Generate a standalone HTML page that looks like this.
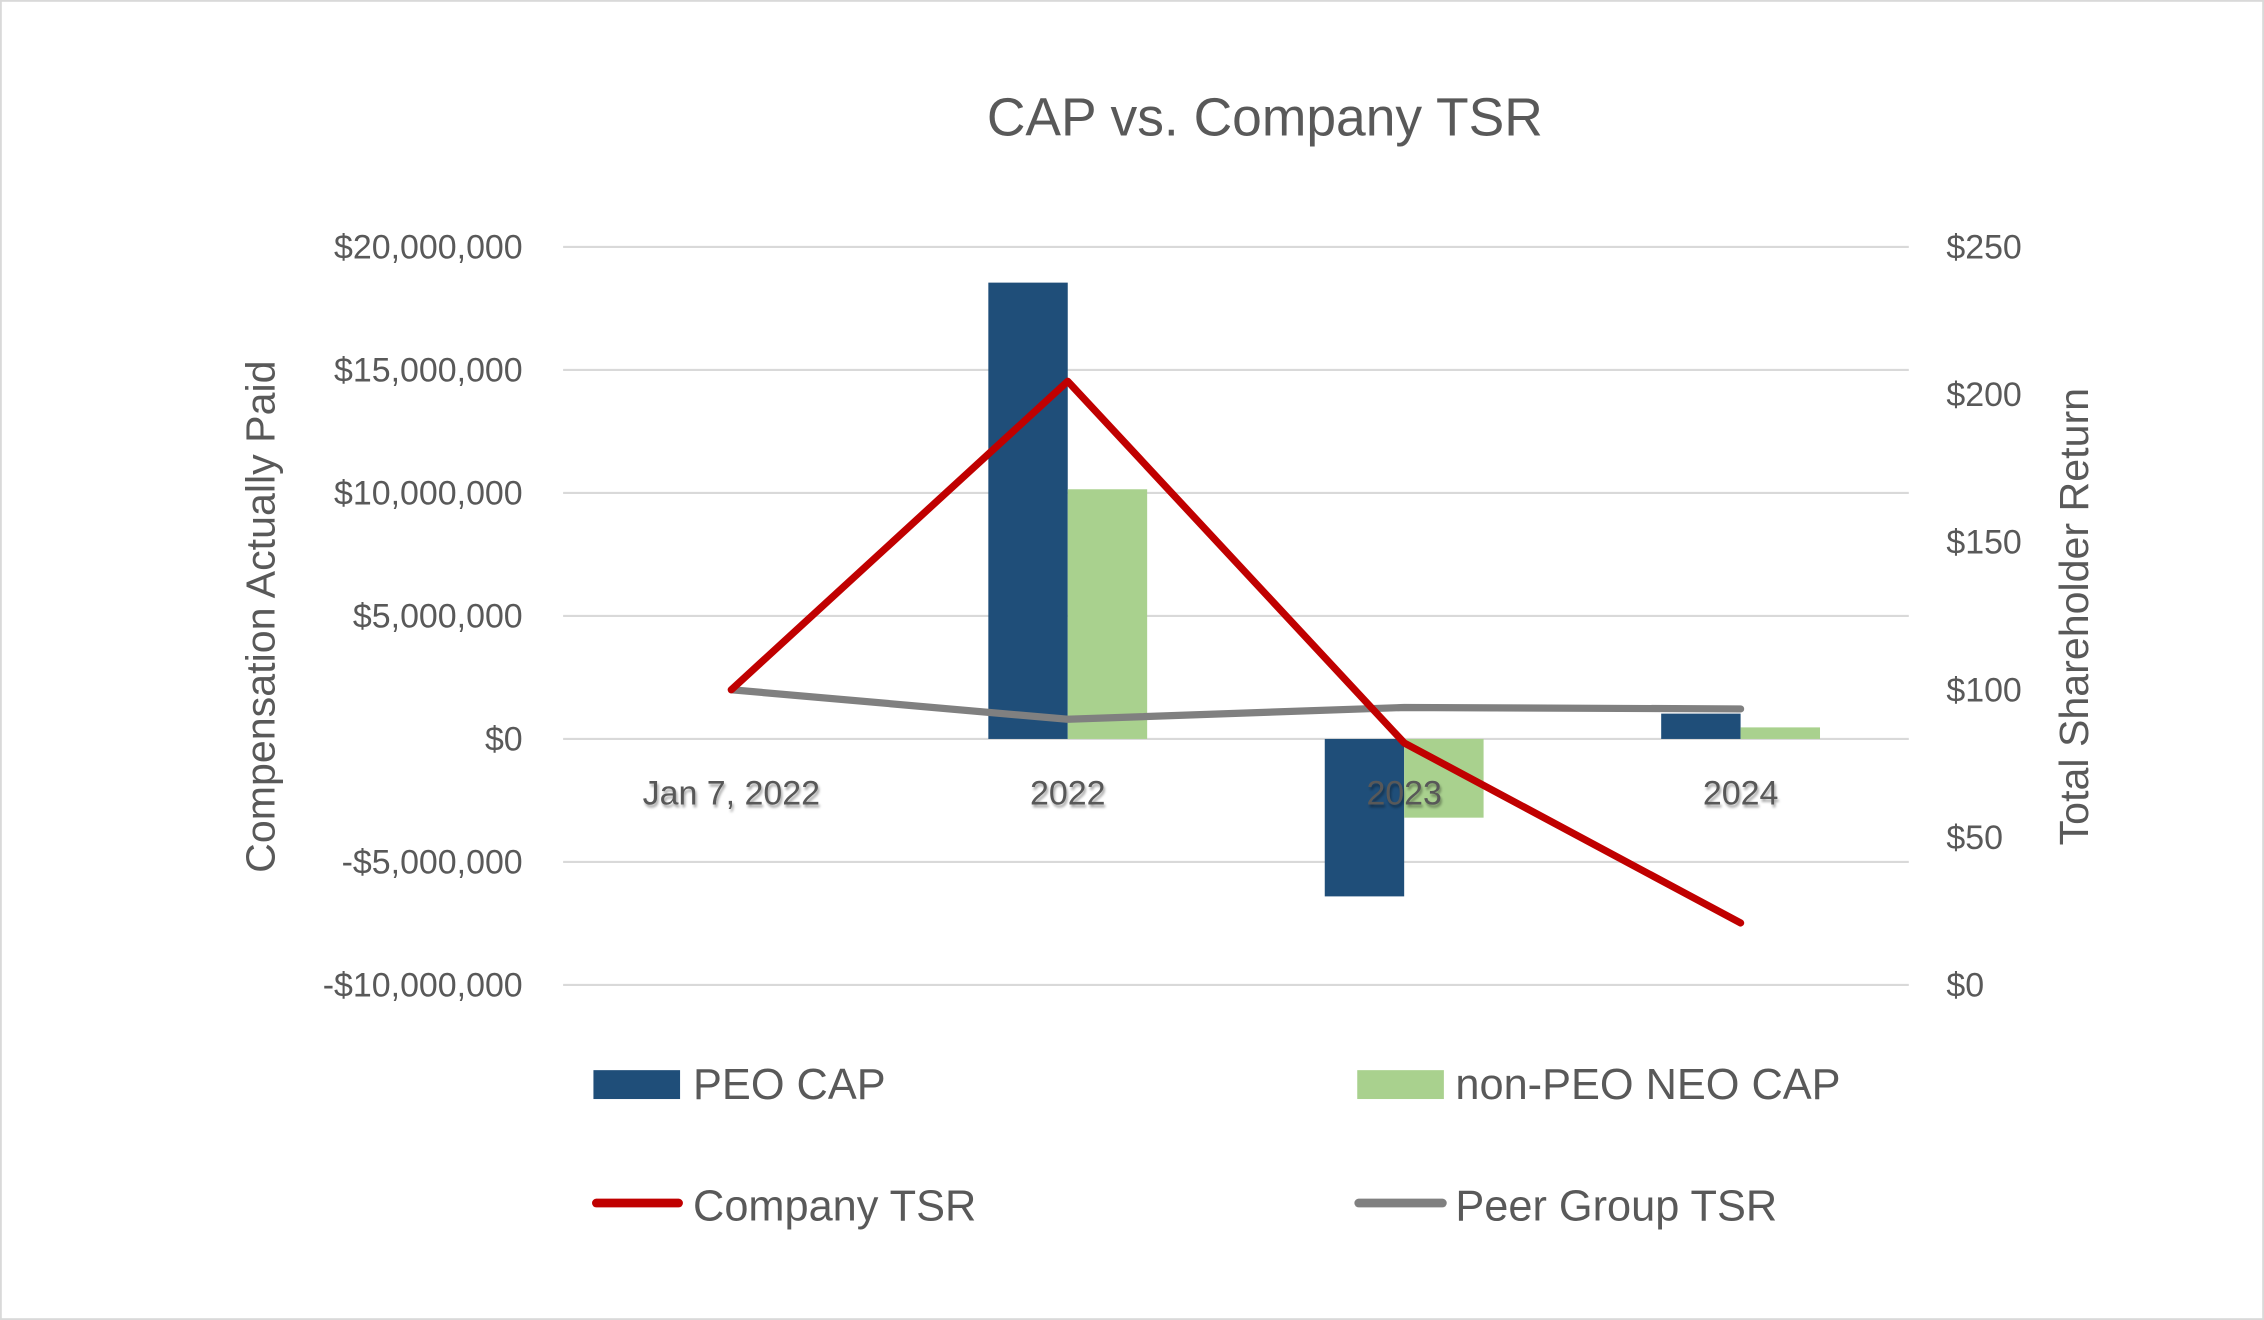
<!DOCTYPE html>
<html><head><meta charset="utf-8">
<style>
html,body{margin:0;padding:0;background:#fff;}
svg{display:block;}
text{font-family:"Liberation Sans",sans-serif;fill:#595959;}
</style></head>
<body>
<svg id="chart" width="2264" height="1320" viewBox="0 0 1568 914" preserveAspectRatio="none" xmlns="http://www.w3.org/2000/svg">
<defs>
<filter id="sh" x="-10%" y="-10%" width="130%" height="150%"><feDropShadow dx="1" dy="2" stdDeviation="1" flood-color="#000" flood-opacity="0.35"/></filter>
</defs>
<rect x="0.5" y="0.5" width="1567" height="913" fill="#fff" stroke="#d9d9d9" stroke-width="1.5"/>
<text x="876" y="94" text-anchor="middle" font-size="37">CAP vs. Company TSR</text>
<g id="grid"></g>
<g id="bars"></g>
<g id="cats"></g>
<g id="lines"></g>
<text transform="translate(190,427) rotate(-90)" text-anchor="middle" font-size="28.5">Compensation Actually Paid</text>
<text transform="translate(1446,427) rotate(-90)" text-anchor="middle" font-size="28.5">Total Shareholder Return</text>
<g>
<rect x="411" y="741" width="60" height="20" fill="#1f4e79"/>
<text x="480" y="761" font-size="30">PEO CAP</text>
<rect x="940" y="741" width="60" height="20" fill="#a9d18e"/>
<text x="1008" y="761" font-size="30">non-PEO NEO CAP</text>
<line x1="413" y1="833" x2="470" y2="833" stroke="#c00000" stroke-width="6" stroke-linecap="round"/>
<text x="480" y="845" font-size="30">Company TSR</text>
<line x1="941" y1="833" x2="999" y2="833" stroke="#808080" stroke-width="6" stroke-linecap="round"/>
<text x="1008" y="845" font-size="30">Peer Group TSR</text>
</g>
</svg>
<script>
const categories = ["Jan 7, 2022", "2022", "2023", "2024"];
const peoCap = [null, 18550000, -6400000, 1030000];
const nonPeoCap = [null, 10150000, -3200000, 470000];
const companyTsr = [100, 204.5, 82, 21];
const peerTsr = [100, 90, 94, 93.5];
const leftTicks = [20000000, 15000000, 10000000, 5000000, 0, -5000000, -10000000];
const leftTickLabels = ["$20,000,000","$15,000,000","$10,000,000","$5,000,000","$0","-$5,000,000","-$10,000,000"];
const rightTicks = [250, 200, 150, 100, 50, 0];
const rightTickLabels = ["$250","$200","$150","$100","$50","$0"];

const NS = "http://www.w3.org/2000/svg";
const X0 = 390, X1 = 1322, Y_TOP = 171, Y_BOT = 682;
const yL = v => Y_TOP + (20000000 - v) / 30000000 * (Y_BOT - Y_TOP);
const yR = v => Y_TOP + (250 - v) / 250 * (Y_BOT - Y_TOP);
const band = (X1 - X0) / categories.length;
const xC = i => X0 + band * (i + 0.5);
const BW = 55;

function mk(tag, attrs, parent) {
  const el = document.createElementNS(NS, tag);
  for (const k in attrs) el.setAttribute(k, attrs[k]);
  parent.appendChild(el);
  return el;
}
const grid = document.getElementById('grid');
leftTicks.forEach((t, i) => {
  const gl = mk('line', {x1: X0, x2: X1, y1: yL(t), y2: yL(t), stroke: '#d9d9d9', 'stroke-width': 1.5}, grid);
  
  
  const tx = mk('text', {x: 362, y: yL(t) + 8, 'text-anchor': 'end', 'font-size': 23.5}, grid);
  tx.textContent = leftTickLabels[i];
  
  
});
rightTicks.forEach((t, i) => {
  const tx = mk('text', {x: 1348, y: yR(t) + 8, 'font-size': 23.5}, grid);
  tx.textContent = rightTickLabels[i];
  
  
});
const bars = document.getElementById('bars');
function drawBars(vals, off, color, name) {
  vals.forEach((v, i) => {
    if (v === null) return;
    const y0 = yL(0), y1 = yL(v);
    const r = mk('rect', {x: xC(i) + off, y: Math.min(y0, y1), width: BW, height: Math.abs(y1 - y0), fill: color}, bars);
    
    
  });
}
drawBars(peoCap, -BW, '#1f4e79', 'peo-cap');
drawBars(nonPeoCap, 0, '#a9d18e', 'non-peo-cap');
const cats = document.getElementById('cats');
categories.forEach((c, i) => {
  const t = mk('text', {x: xC(i), y: 557, 'text-anchor': 'middle', 'font-size': 23.5, filter: 'url(#sh)'}, cats);
  t.textContent = c;
  
  
});
const lines = document.getElementById('lines');
function drawLine(vals, color, name) {
  const pts = vals.map((v, i) => xC(i) + ',' + yR(v)).join(' ');
  const p = mk('polyline', {points: pts, fill: 'none', stroke: color, 'stroke-width': 5, 'stroke-linecap': 'round', 'stroke-linejoin': 'round'}, lines);
  
  
}
drawLine(peerTsr, '#808080', 'peer-group-tsr-line');
drawLine(companyTsr, '#c00000', 'company-tsr-line');
</script>
</body></html>
